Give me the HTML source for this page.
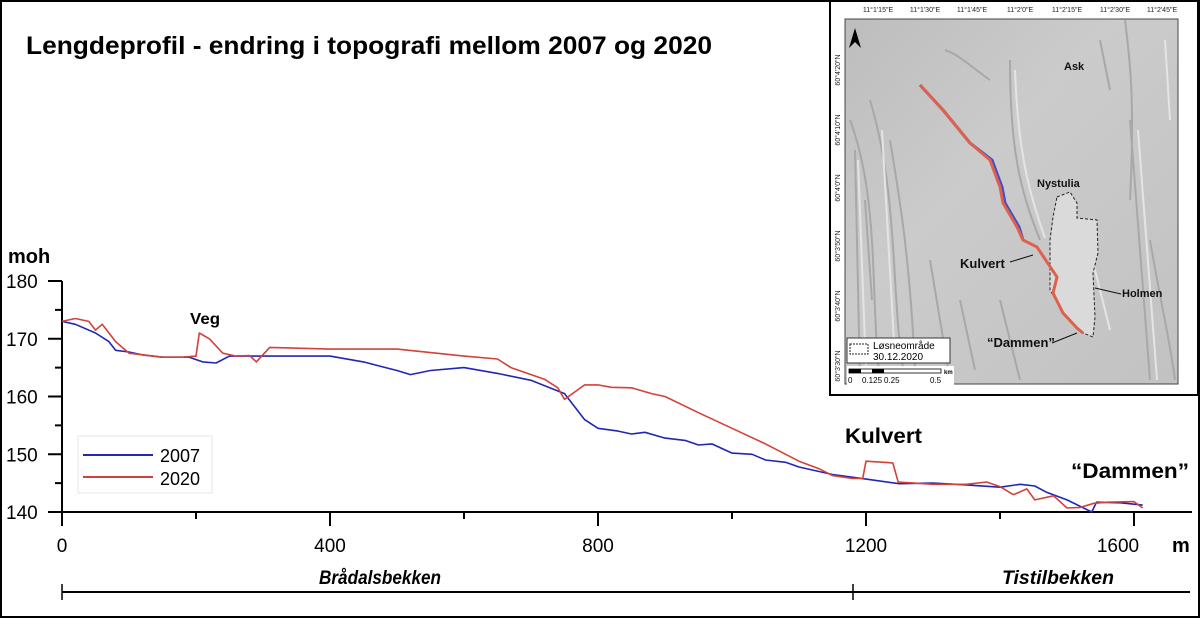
<!DOCTYPE html>
<html><head><meta charset="utf-8"><style>
html,body{margin:0;padding:0;background:#fff}
svg{display:block}
text{font-family:"Liberation Sans",sans-serif}
</style></head><body>
<svg id="chart" width="1200" height="618" viewBox="0 0 1200 618" xmlns="http://www.w3.org/2000/svg">
<defs>
<linearGradient id="hs" x1="0" y1="0" x2="1" y2="1">
<stop offset="0" stop-color="#bdbdbd"/><stop offset="0.4" stop-color="#cbcbcb"/><stop offset="1" stop-color="#c2c2c2"/>
</linearGradient>
</defs>
<rect x="1" y="1" width="1198" height="616" fill="#fff" stroke="#000" stroke-width="2"/>
<text x="26" y="54" font-size="25" font-weight="bold" textLength="686" lengthAdjust="spacingAndGlyphs">Lengdeprofil - endring i topografi mellom 2007 og 2020</text>

<g id="axes"></g>
<g id="series"></g>

<text x="8" y="263" font-size="20" font-weight="bold">moh</text>
<text x="1172" y="552" font-size="20" font-weight="bold">m</text>
<text x="190" y="324" font-size="16" font-weight="bold" textLength="30" lengthAdjust="spacingAndGlyphs">Veg</text>
<text x="845" y="443" font-size="21" font-weight="bold" textLength="77" lengthAdjust="spacingAndGlyphs">Kulvert</text>
<text x="1071" y="478" font-size="21" font-weight="bold" textLength="118" lengthAdjust="spacingAndGlyphs">“Dammen”</text>

<g>
<rect x="78" y="436" width="134" height="57" fill="#fff" stroke="#e6e6e6"/>
<line x1="83" y1="455" x2="153" y2="455" stroke="#2027b5" stroke-width="2"/>
<text x="160" y="462" font-size="18">2007</text>
<line x1="83" y1="477" x2="153" y2="477" stroke="#d2423a" stroke-width="2"/>
<text x="160" y="485" font-size="18">2020</text>
</g>

<g>
<line x1="62" y1="592" x2="1190" y2="592" stroke="#000" stroke-width="2"/>
<line x1="62" y1="584" x2="62" y2="600" stroke="#000" stroke-width="1.5"/>
<line x1="853" y1="584" x2="853" y2="600" stroke="#000" stroke-width="1.5"/>
<text x="380" y="584" font-size="19" font-weight="bold" font-style="italic" text-anchor="middle" textLength="122" lengthAdjust="spacingAndGlyphs">Brådalsbekken</text>
<text x="1058" y="584" font-size="19" font-weight="bold" font-style="italic" text-anchor="middle" textLength="112" lengthAdjust="spacingAndGlyphs">Tistilbekken</text>
</g>

<g>
<rect x="830" y="1" width="368" height="394" fill="#fff" stroke="#000" stroke-width="2"/>
<rect x="845" y="19" width="333" height="365" fill="url(#hs)" stroke="#444" stroke-width="1"/>
<g stroke="#a8a8a8" stroke-width="2" fill="none">
<path d="M850 120 C880 200 870 300 880 380 M870 100 C900 200 890 300 905 380 M1010 60 C1010 150 1020 190 1040 240 M1130 120 L1150 380 M1125 20 C1130 60 1135 100 1130 200"/>
<path d="M855 150 L860 380 M865 200 L872 300 M890 140 C900 200 910 260 915 370 M930 260 L950 380 M960 300 L975 370 M1000 300 L1020 380 M1150 240 C1160 300 1170 340 1175 380 M1100 40 L1110 90 M945 50 C960 55 975 70 990 80"/>
</g>
<g stroke="#e4e4e4" stroke-width="2" fill="none">
<path d="M858 160 L866 370 M882 130 L895 360 M1015 70 C1018 150 1028 190 1045 238 M1138 130 L1157 380 M1090 250 L1110 330 M1165 40 L1170 120"/>
</g>
<path d="M1057 197 L1070 192 L1077 203 L1077 218 L1097 220 L1098 253 L1093 273 L1095 317 L1093 337 L1083 333 L1063 313 L1050 290 L1050 240 L1053 217 Z" fill="#dadada" stroke="#222" stroke-width="1" stroke-dasharray="3,2"/>
<path d="M920 85 L943 110 L970 143 L992 160 L1002 187 L1005 203 L1019 227 L1023 240" stroke="#3a4fc8" stroke-width="3" fill="none"/>
<path d="M920 85 L943 110 L970 143 L990 160 L1000 187 L1003 203 L1017 227 L1023 240 L1037 247 L1057 277 L1053 293 L1063 313 L1077 328 L1083 333" stroke="#e0604e" stroke-width="3" fill="none"/>
<g font-size="7" fill="#222">
<text x="878" y="12" text-anchor="middle">11°1'15"E</text><text x="925" y="12" text-anchor="middle">11°1'30"E</text><text x="972" y="12" text-anchor="middle">11°1'45"E</text><text x="1020" y="12" text-anchor="middle">11°2'0"E</text><text x="1067" y="12" text-anchor="middle">11°2'15"E</text><text x="1115" y="12" text-anchor="middle">11°2'30"E</text><text x="1162" y="12" text-anchor="middle">11°2'45"E</text>
<text transform="translate(840,70) rotate(-90)" text-anchor="middle">60°4'20"N</text><text transform="translate(840,130) rotate(-90)" text-anchor="middle">60°4'10"N</text><text transform="translate(840,188) rotate(-90)" text-anchor="middle">60°4'0"N</text><text transform="translate(840,246) rotate(-90)" text-anchor="middle">60°3'50"N</text><text transform="translate(840,306) rotate(-90)" text-anchor="middle">60°3'40"N</text><text transform="translate(840,366) rotate(-90)" text-anchor="middle">60°3'30"N</text>
</g>
<path d="M849 48 L855 28 L861 48 L855 42 Z" fill="#000"/>
<g font-weight="bold" fill="#111">
<text x="1064" y="70" font-size="11">Ask</text><text x="1037" y="187" font-size="11">Nystulia</text>
<text x="960" y="268" font-size="13">Kulvert</text><text x="1122" y="297" font-size="11">Holmen</text><text x="987" y="347" font-size="13">“Dammen”</text>
</g>
<path d="M1010 262 L1033 255 M1095 288 L1121 294 M1052 343 L1077 333" stroke="#111" stroke-width="1"/>
<rect x="847" y="338" width="103" height="25" fill="#fff" stroke="#333"/>
<rect x="850" y="344" width="18" height="10" fill="none" stroke="#222" stroke-dasharray="2,1"/>
<text x="873" y="349" font-size="10">Løsneområde</text><text x="873" y="360" font-size="10">30.12.2020</text>
<rect x="847" y="366" width="107" height="19" fill="#fff"/>
<rect x="849" y="369" width="92" height="4" fill="#fff" stroke="#000" stroke-width="0.8"/>
<rect x="849" y="369" width="12" height="4" fill="#000"/><rect x="872" y="369" width="12" height="4" fill="#000"/>
<text x="944" y="374" font-size="6" font-weight="bold">km</text>
<text x="848" y="383" font-size="8">0</text><text x="862" y="383" font-size="8">0.125</text><text x="884" y="383" font-size="8">0.25</text><text x="930" y="383" font-size="8">0.5</text>
</g>
</svg>
<script>
const xTicks = [0, 200, 400, 600, 800, 1000, 1200, 1400, 1600];
const xTickLabels = ["0", "400", "800", "1200", "1600"];
const yTicks = [140, 145, 150, 155, 160, 165, 170, 175, 180];
const yTickLabels = ["140", "150", "160", "170", "180"];
const dist2007 = [0,20,50,70,80,100,120,150,190,210,230,250,300,400,450,500,520,550,600,650,700,750,760,780,800,830,850,870,900,930,950,970,1000,1030,1050,1080,1100,1150,1200,1250,1300,1350,1400,1430,1452,1470,1500,1537,1544,1580,1613];
const elev2007 = [173,172.5,171,169.5,168,167.7,167.2,166.8,166.8,166,165.8,167,167,167,166,164.5,163.8,164.5,165,164,162.8,160.5,159,156,154.5,154,153.5,153.8,152.8,152.4,151.6,151.8,150.2,150,149,148.6,147.8,146.5,145.7,144.9,145,144.7,144.3,144.8,144.5,143.4,142.1,140,141.7,141.6,141.2];
const dist2020 = [0,20,40,50,60,80,100,150,180,200,205,220,240,260,280,290,310,400,500,600,650,670,720,740,750,780,800,820,850,880,900,950,1000,1050,1100,1130,1150,1180,1195,1200,1240,1248,1300,1350,1380,1400,1420,1440,1452,1480,1500,1520,1540,1560,1600,1613];
const elev2020 = [173,173.5,173,171.5,172.5,169.5,167.5,166.8,166.8,167,171,170,167.5,167,167.1,166,168.5,168.2,168.2,167,166.5,165,163,161.5,159.5,162,162,161.6,161.5,160.5,160,157.2,154.5,151.8,148.8,147.5,146.3,145.8,145.8,148.8,148.5,145.2,144.8,144.8,145.2,144.4,143,144,142.1,142.8,140.7,140.8,141.5,141.7,141.8,140.7];

const NS = "http://www.w3.org/2000/svg";
const X0 = 62, XPX = 134/200, Y0 = 281, YPX = 57.75/10;
function xScale(m){ return X0 + m*XPX; }
function yScale(v){ return Y0 + (180 - v)*YPX; }
function mk(tag, attrs, parent){ const e=document.createElementNS(NS,tag); for(const k in attrs) e.setAttribute(k,attrs[k]); parent.appendChild(e); return e; }

const axes = document.getElementById('axes');
const yAxis = mk('line',{x1:X0,y1:yScale(180),x2:X0,y2:yScale(140)+1,stroke:'#000','stroke-width':2},axes);


const xAxis = mk('line',{x1:X0,y1:yScale(140),x2:1192,y2:yScale(140),stroke:'#000','stroke-width':2},axes);


yTicks.forEach((v)=>{
  const major = v % 10 === 0;
  const t = mk('line',{x1:X0-(major?14:7),y1:yScale(v),x2:X0,y2:yScale(v),stroke:'#000','stroke-width':2},axes);
  
  
});
yTickLabels.forEach((s)=>{
  const t = mk('text',{x:6,y:yScale(+s)+7,'font-size':19},axes);
  t.textContent = s;
  
  
});
xTicks.forEach((m)=>{
  const major = m % 400 === 0;
  const t = mk('line',{x1:xScale(m),y1:yScale(140),x2:xScale(m),y2:yScale(140)+(major?14:7),stroke:'#000','stroke-width':2},axes);
  
  
});
xTickLabels.forEach((s)=>{
  const m = +s;
  const t = mk('text',{x:xScale(m)-(m===1600?16:0),y:552,'font-size':19,'text-anchor':'middle'},axes);
  t.textContent = s;
  
  
});

const series = document.getElementById('series');
function drawLine(d, v, color, name){
  const pts = d.map((m,i)=>xScale(m).toFixed(1)+','+yScale(v[i]).toFixed(1)).join(' ');
  const p = mk('polyline',{points:pts,fill:'none',stroke:color,'stroke-width':1.6,'stroke-linejoin':'round'},series);
  
  
}
drawLine(dist2007, elev2007, '#2027b5', 'line-2007');
drawLine(dist2020, elev2020, '#d2423a', 'line-2020');
</script>
</body></html>
